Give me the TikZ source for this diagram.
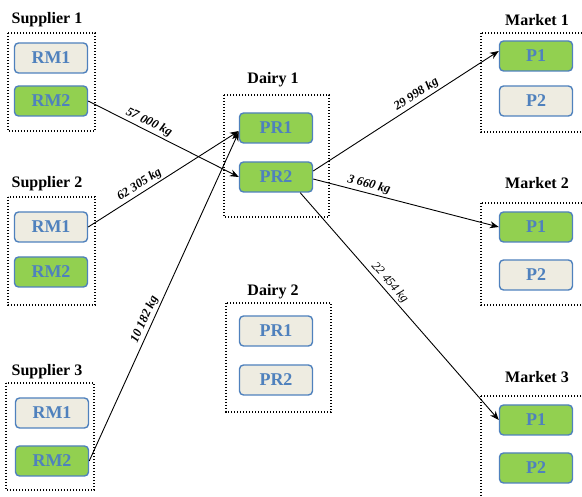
\documentclass[tikz,border=0pt]{standalone}
\usepackage{fontspec}
\setmainfont{Liberation Serif}
\usetikzlibrary{arrows.meta}
\definecolor{grn}{HTML}{92D050}
\definecolor{gry}{HTML}{EEECE1}
\definecolor{blu}{HTML}{4F81BD}

\begin{document}
\begin{tikzpicture}[x=1pt,y=-1pt,
	prod/.style={draw=blu, line width=1.4pt, rounded corners=4pt,
		minimum width=73pt, minimum height=30pt, text=blu,
		font=\fontsize{18}{18}\selectfont\bfseries},
	on/.style={prod, fill=grn},
	off/.style={prod, fill=gry},
	grp/.style={line width=1.3pt, dash pattern=on 1.4pt off 1.6pt},
	ttl/.style={font=\fontsize{16}{16}\selectfont\bfseries},
	flow/.style={-{Stealth[length=9pt,width=7pt]}, line width=0.9pt},
	qty/.style={sloped, above, inner sep=2pt,
		font=\fontsize{12.5}{13}\selectfont\bfseries\itshape}]
	\clip (0,0) rectangle (582,497);
	% suppliers
	\node[ttl] (s1) at (47,20) {Supplier 1};
	\draw[grp] (8,33) rectangle (95,131);
	\node[off] (s1rm1) at (51,58) {RM1};
	\node[on] (s1rm2) at (51,101) {RM2};
	\node[ttl] (s2) at (47,184) {Supplier 2};
	\draw[grp] (8,197) rectangle (95,305);
	\node[off] (s2rm1) at (51,227) {RM1};
	\node[on] (s2rm2) at (51,272) {RM2};
	\node[ttl] (s3) at (47,372) {Supplier 3};
	\draw[grp] (6,383) rectangle (94,490);
	\node[off] (s3rm1) at (52,413) {RM1};
	\node[on] (s3rm2) at (52,461) {RM2};
	% dairies
	\node[ttl] (d1) at (273,80) {Dairy 1};
	\draw[grp] (224,95) rectangle (329,217);
	\node[on] (d1pr1) at (276,128) {PR1};
	\node[on] (d1pr2) at (276,177) {PR2};
	\node[ttl] (d2) at (273,292) {Dairy 2};
	\draw[grp] (226,303) rectangle (331,412);
	\node[off] (d2pr1) at (276,331) {PR1};
	\node[off] (d2pr2) at (276,380) {PR2};
	% markets
	\node[ttl] (m1) at (537,20) {Market 1};
	\draw[grp] (481,33) rectangle (590,132);
	\node[on] (m1p1) at (536,56) {P1};
	\node[off] (m1p2) at (536,101) {P2};
	\node[ttl] (m2) at (537,183) {Market 2};
	\draw[grp] (481,203) rectangle (590,305);
	\node[on] (m2p1) at (536,227) {P1};
	\node[off] (m2p2) at (536,275) {P2};
	\node[ttl] (m3) at (537,377) {Market 3};
	\draw[grp] (481,396) rectangle (590,505);
	\node[on] (m3p1) at (536,420) {P1};
	\node[on] (m3p2) at (536,468) {P2};
	% flows
	\draw[flow] (s1rm2.east) -- (d1pr2.west) node[qty, pos=0.38] {57 000 kg};
	\draw[flow] (s2rm1.east) -- ([yshift=-3pt]d1pr1.west) node[qty, pos=0.37] {62 305 kg};
	\draw[flow] (s3rm2.east) -- ([yshift=-4pt]d1pr1.west) node[qty, pos=0.42] {10 182 kg};
	\draw[flow] ([yshift=6pt]d1pr2.east) -- ([yshift=5pt]m1p1.west) node[qty, pos=0.58] {29 998 kg};
	\draw[flow] ([yshift=-2pt]d1pr2.east) -- (m2p1.west) node[qty, pos=0.29] {3 660 kg};
	\draw[flow] ([xshift=-13pt]d1pr2.south east) -- (m3p1.west)
		node[qty, pos=0.42, font=\fontsize{12.5}{13}\selectfont\itshape] {22 454 kg};
\end{tikzpicture}
\end{document}
